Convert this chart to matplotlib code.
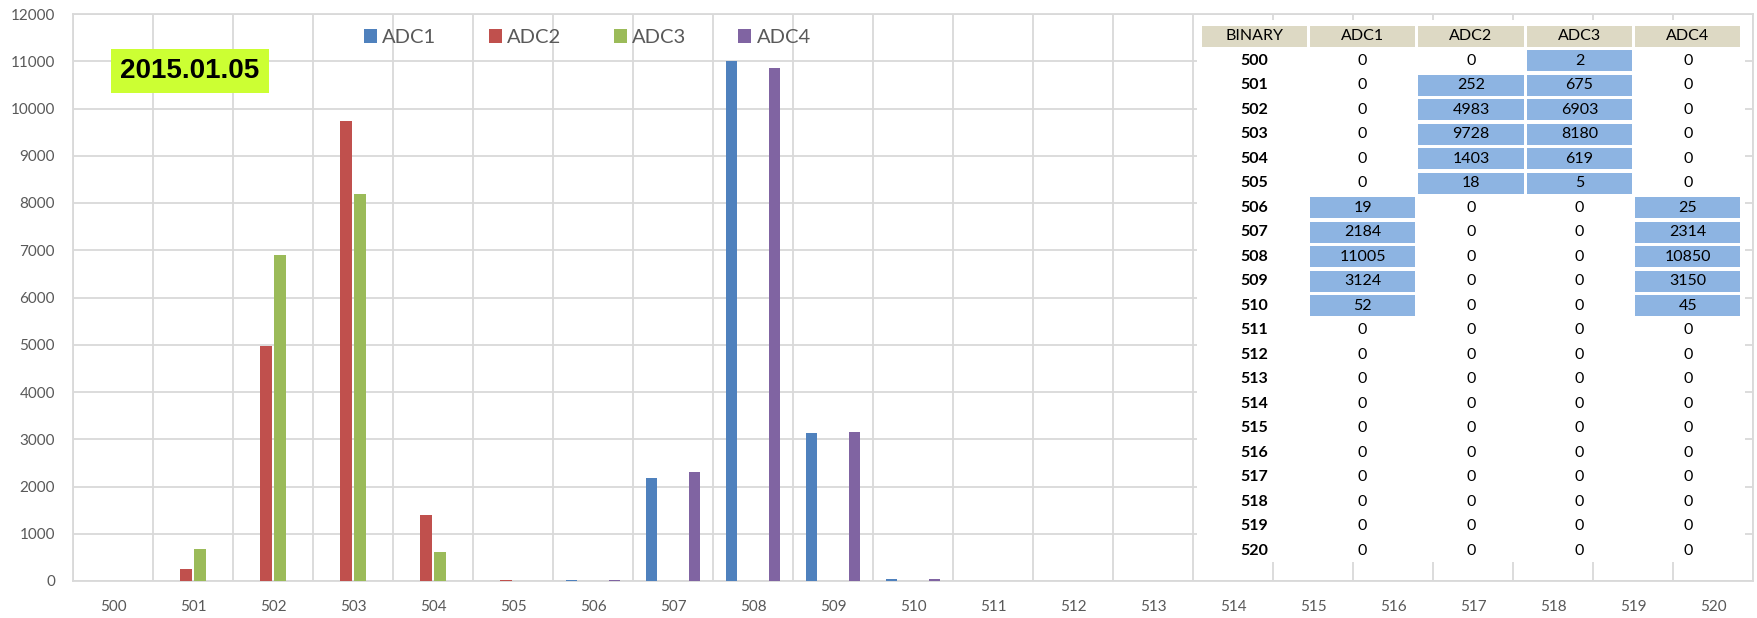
import matplotlib
matplotlib.use("Agg")
import matplotlib.pyplot as plt
from matplotlib.patches import Rectangle
import numpy as np

# ---------------- data ----------------
binary = list(range(500, 521))
adc1 = [0, 0, 0, 0, 0, 0, 19, 2184, 11005, 3124, 52, 0, 0, 0, 0, 0, 0, 0, 0, 0, 0]
adc2 = [0, 252, 4983, 9728, 1403, 18, 0, 0, 0, 0, 0, 0, 0, 0, 0, 0, 0, 0, 0, 0, 0]
adc3 = [2, 675, 6903, 8180, 619, 5, 0, 0, 0, 0, 0, 0, 0, 0, 0, 0, 0, 0, 0, 0, 0]
adc4 = [0, 0, 0, 0, 0, 0, 25, 2314, 10850, 3150, 45, 0, 0, 0, 0, 0, 0, 0, 0, 0, 0]
series_names = ["ADC1", "ADC2", "ADC3", "ADC4"]
series = [adc1, adc2, adc3, adc4]
colors = ["#4F81BD", "#C0504D", "#9BBB59", "#8064A2"]
date_label = "2015.01.05"
table_header = ["BINARY"] + series_names

# ---------------- figure ----------------
W, H = 1758, 618
fig = plt.figure(figsize=(W / 100, H / 100), dpi=100)
plt.rcParams['font.family'] = ['Lato', 'DejaVu Sans']

def px(l, t, r, b):
    return [l / W, 1 - b / H, (r - l) / W, (b - t) / H]

grid_c = "#D9D9D9"
txt_c = "#595959"

ax = fig.add_axes(px(73, 14, 1753, 581))
x = np.arange(len(binary))
slot = 0.181
bw = 0.144
for i, (name, vals, c) in enumerate(zip(series_names, series, colors)):
    ax.bar(x + (i - 1.5) * slot, vals, width=bw, color=c, label=name, zorder=3)

ax.set_xlim(-0.5, len(binary) - 0.5)
ax.set_ylim(0, 12000)
ax.set_yticks(np.arange(0, 12001, 1000))
ax.set_xticks(x)
ax.set_xticklabels([str(b) for b in binary])
ax.set_xticks(np.arange(-0.5, len(binary), 1.0), minor=True)
ax.grid(True, which='major', axis='y', color=grid_c, linewidth=1.3, zorder=0)
ax.grid(True, which='minor', axis='x', color=grid_c, linewidth=1.3, zorder=0)
ax.set_axisbelow(True)
for s in ax.spines.values():
    s.set_color(grid_c)
    s.set_linewidth(1.3)
ax.tick_params(axis='both', which='both', length=0, labelsize=11, labelcolor=txt_c)
ax.tick_params(axis='y', pad=13)
ax.tick_params(axis='x', pad=14)

leg = ax.legend(loc='center', bbox_to_anchor=(587.5 / W, 1 - 37.7 / H),
                bbox_transform=fig.transFigure, ncol=4, frameon=False,
                fontsize=14.5, handlelength=0.65, handleheight=0.65,
                handletextpad=0.25, columnspacing=2.6, borderpad=0,
                labelcolor=txt_c)

# date box
fig.text(190 / W, 1 - 71 / H, date_label, ha='center', va='center',
         fontsize=20, fontweight='bold', family='Liberation Sans', color='black',
         bbox=dict(boxstyle='square,pad=0.33', facecolor='#CCFF33', edgecolor='none'))

# ---------------- table ----------------
L, R, T, B = 1197, 1745, 20, 562
tx0, ty0 = 1200, 24
cw, rh = 108.4, 24.5
tax = fig.add_axes(px(L, T, R, B))
tax.set_xlim((L - tx0) / cw, (R - tx0) / cw)
tax.set_ylim((B - ty0) / rh, (T - ty0) / rh)
tax.set_facecolor('white')
tax.set_xticks([])
tax.set_yticks([])
for s in tax.spines.values():
    s.set_visible(False)

gw, gh = 3 / cw, 3.5 / rh
for c, h in enumerate(table_header):
    tax.add_patch(Rectangle((c + gw / 2, 0 + gh / 2), 1 - gw, 1 - gh,
                            facecolor='#DDD9C4', edgecolor='none'))
    tax.text(c + 0.5, 0.5, h, ha='center', va='center', fontsize=11.5, color='black')

for r, b in enumerate(binary):
    row = r + 1
    tax.text(0.5, row + 0.5, str(b), ha='center', va='center', fontsize=11.5,
             fontweight='bold', color='black')
    for c, vals in enumerate(series):
        v = vals[r]
        if v != 0:
            tax.add_patch(Rectangle((c + 1 + gw / 2, row + gh / 2), 1 - gw, 1 - gh,
                                    facecolor='#8DB4E2', edgecolor='none'))
        tax.text(c + 1.5, row + 0.5, str(v), ha='center', va='center',
                 fontsize=11.5, color='black')

fig.savefig("out.png", dpi=100, facecolor='white')
